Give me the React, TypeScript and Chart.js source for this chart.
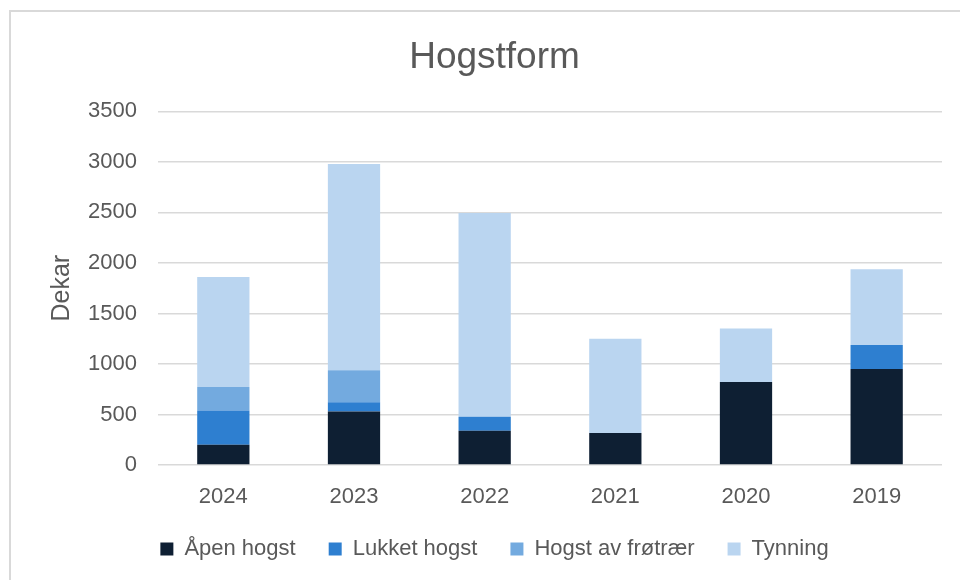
import React, { useEffect, useRef } from "react";
import { Chart, registerables } from "chart.js";

Chart.register(...registerables);

const years = ["2024", "2023", "2022", "2021", "2020", "2019"];
const apenHogst = [200, 530, 340, 317, 822, 950];
const lukketHogst = [340, 90, 138, 0, 0, 238];
const hogstFrotraer = [232, 317, 0, 0, 0, 0];
const tynning = [1089, 2043, 2017, 933, 530, 749];

const TEXT = "#595959";
const FONT = "'Liberation Sans', Arial, sans-serif";

export default function App() {
  const ref = useRef<HTMLCanvasElement | null>(null);

  useEffect(() => {
    if (!ref.current) return;
    const mk = (label: string, data: number[], color: string) => ({
      label,
      data,
      backgroundColor: color,
      borderWidth: 0,
      barPercentage: 0.4,
      categoryPercentage: 1,
    });
    const chart = new Chart(ref.current, {
      type: "bar",
      data: {
        labels: years,
        datasets: [
          mk("Åpen hogst", apenHogst, "#0E1F33"),
          mk("Lukket hogst", lukketHogst, "#2E7FD0"),
          mk("Hogst av frøtrær", hogstFrotraer, "#73AADF"),
          mk("Tynning", tynning, "#BAD5F0"),
        ],
      },
      options: {
        responsive: false,
        animation: false,
        maintainAspectRatio: false,
        layout: { padding: { left: 37, right: 33, top: 0, bottom: 50 } },
        plugins: {
          tooltip: { enabled: false },
          title: {
            display: true,
            text: "Hogstform",
            color: TEXT,
            font: { family: FONT, size: 37, weight: "normal" },
            padding: { top: 36, bottom: 31 },
          },
          legend: {
            position: "bottom",
            labels: {
              color: TEXT,
              font: { family: FONT, size: 22 },
              boxWidth: 13,
              boxHeight: 13,
              padding: 33,
            },
          },
        },
        scales: {
          x: {
            stacked: true,
            grid: { display: false, drawTicks: false },
            border: { display: false },
            ticks: { color: TEXT, font: { family: FONT, size: 22 }, padding: 19 },
            afterFit: (s: any) => {
              s.height = 40;
            },
          },
          y: {
            stacked: true,
            min: 0,
            max: 3500,
            ticks: {
              stepSize: 500,
              color: TEXT,
              font: { family: FONT, size: 22 },
              padding: 21,
              callback: (v: any) => String(v),
            },
            grid: { color: "#D9D9D9", lineWidth: 1.5, drawTicks: false },
            border: { display: false },
            title: {
              display: true,
              text: "Dekar",
              color: TEXT,
              font: { family: FONT, size: 25 },
              padding: { top: 0, bottom: 0 },
            },
            afterFit: (s: any) => {
              s.width = 111;
            },
          },
        },
      },
    });
    return () => chart.destroy();
  }, []);

  return (
    <div
      style={{
        position: "fixed",
        left: 0,
        top: 0,
        width: 960,
        height: 580,
        overflow: "hidden",
        background: "#fff",
      }}
    >
      <div
        style={{
          position: "absolute",
          left: 9,
          top: 10,
          width: 1200,
          height: 1200,
          border: "2px solid #D9D9D9",
        }}
      />
      <canvas
        ref={ref}
        width={965}
        height={620}
        style={{ position: "absolute", left: 10, top: 0, width: 965, height: 620 }}
      />
    </div>
  );
}
